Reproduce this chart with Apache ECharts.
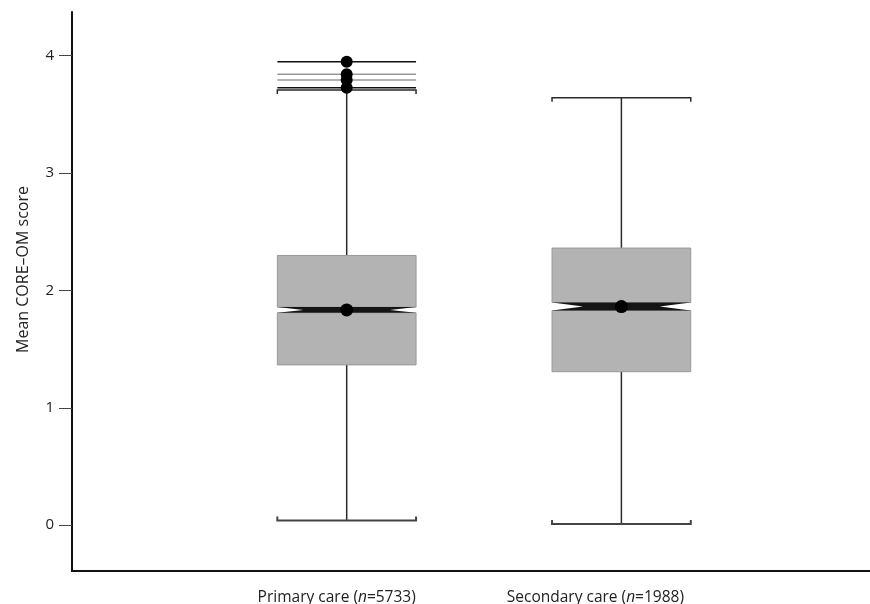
<!DOCTYPE html>
<html>
<head>
    <meta charset="UTF-8">
    <title>Mean CORE-OM score</title>
    <script src="https://cdn.jsdelivr.net/npm/echarts@6/dist/echarts.min.js"></script>
    <style>
        html, body { margin: 0; padding: 0; background: #fff; }
        #chart { width: 870px; height: 604px; }
    </style>
</head>
<body>
<div id="chart"></div>
<script>
    // values
    var categories = ['Primary care', 'Secondary care'];
    var sampleN = [5733, 1988];
    var whiskerLow = [0.04, 0.01];
    var q1 = [1.365, 1.307];
    var median = [1.833, 1.862];
    var q3 = [2.297, 2.36];
    var whiskerHigh = [3.705, 3.64];
    var notchHalf = [0.024, 0.034];
    var notchDepth = [0.095, 0.113];
    var outliers = [[3.947, 3.84, 3.79, 3.724], []];
    var outlierShade = [['#111', '#9a9a9a', '#9a9a9a', '#111'], []];
    var yTicks = [0, 1, 2, 3, 4];

    var halfW = 0.2525;   // box half width in x units
    var FONT = '"Open Sans", sans-serif';
    var labelPad = [20, 52]; // the printed labels sit a little left of the boxes

    var boxData = categories.map(function (c, i) {
        return [i + 1, whiskerLow[i], q1[i], median[i], q3[i], whiskerHigh[i], notchHalf[i], notchDepth[i]];
    });
    var outlierData = [];
    outliers.forEach(function (list, i) {
        list.forEach(function (v, j) {
            outlierData.push([i + 1, v, outlierShade[i][j]]);
        });
    });
    var medianDots = categories.map(function (c, i) { return [i + 1, median[i]]; });

    function renderBox(params, api) {
        var x = api.value(0);
        var lo = api.value(1), b1 = api.value(2), md = api.value(3), b3 = api.value(4), hi = api.value(5);
        var nh = api.value(6), nd = api.value(7);
        var L = x - halfW, R = x + halfW;
        var p = function (a, b) { return api.coord([a, b]); };
        var lineStyle = { stroke: '#2a2a2a', lineWidth: 1.5, fill: null };
        var tL = p(L, hi), tR = p(R, hi), bL = p(L, lo), bR = p(R, lo);
        var children = [
            // whiskers
            { type: 'line', shape: { x1: p(x, b3)[0], y1: p(x, b3)[1], x2: p(x, hi)[0], y2: p(x, hi)[1] }, style: lineStyle },
            { type: 'line', shape: { x1: p(x, b1)[0], y1: p(x, b1)[1], x2: p(x, lo)[0], y2: p(x, lo)[1] }, style: lineStyle },
            // caps with small end ticks
            { type: 'polyline', shape: { points: [[tL[0], tL[1] + 4], tL, tR, [tR[0], tR[1] + 4]] }, style: lineStyle },
            { type: 'polyline', shape: { points: [[bL[0], bL[1] - 4], bL, bR, [bR[0], bR[1] - 4]] }, style: { stroke: '#444', lineWidth: 2, fill: null } },
            // upper and lower parts of the box
            { type: 'polygon', shape: { points: [p(L, b3), p(R, b3), p(R, md + nh), p(L, md + nh)] },
                style: { fill: '#b3b3b3', stroke: '#9a9a9a', lineWidth: 1 } },
            { type: 'polygon', shape: { points: [p(L, md - nh), p(R, md - nh), p(R, b1), p(L, b1)] },
                style: { fill: '#b3b3b3', stroke: '#9a9a9a', lineWidth: 1 } },
            // notch
            { type: 'polygon', shape: { points: [p(L, md + nh), p(R, md + nh), p(R - nd, md), p(R, md - nh), p(L, md - nh), p(L + nd, md)] },
                style: { fill: '#151515' } },
            { type: 'line', shape: { x1: p(L + nd, md)[0], y1: p(L + nd, md)[1], x2: p(R - nd, md)[0], y2: p(R - nd, md)[1] },
                style: { stroke: '#151515', lineWidth: 3 } }
        ];
        return { type: 'group', children: children };
    }

    function renderOutlier(params, api) {
        var x = api.value(0), v = api.value(1);
        var a = api.coord([x - halfW, v]), b = api.coord([x + halfW, v]);
        return {
            type: 'line',
            shape: { x1: a[0], y1: a[1], x2: b[0], y2: b[1] },
            style: { stroke: api.value(2), lineWidth: 1.5 }
        };
    }

    var chart = echarts.init(document.getElementById('chart'));
    chart.setOption({
        animation: false,
        grid: { left: 72, right: 0, top: 12, bottom: 33, outerBoundsMode: 'none' },
        xAxis: {
            type: 'value',
            min: 0,
            max: 2.905,
            interval: 1,
            splitLine: { show: false },
            axisTick: { show: false },
            axisLine: { onZero: false, lineStyle: { color: '#111', width: 2 } },
            axisLabel: {
                margin: 19,
                fontFamily: FONT,
                fontSize: 15.5,
                color: '#222',
                formatter: function (v) {
                    var i = Math.round(v) - 1;
                    if (i < 0 || i >= categories.length) return '';
                    return categories[i] + ' ({it|n}=' + sampleN[i] + '){p' + i + '|}';
                },
                rich: {
                    it: { fontStyle: 'italic', fontFamily: FONT, fontSize: 15.5, color: '#222' },
                    p0: { width: labelPad[0] },
                    p1: { width: labelPad[1] }
                }
            }
        },
        yAxis: {
            type: 'value',
            min: -0.39,
            max: 4.37,
            name: 'Mean CORE\u2013OM score',
            nameLocation: 'middle',
            nameGap: 41,
            nameTextStyle: { fontFamily: FONT, fontSize: 16, color: '#222', padding: [0, 0, 0, 44] },
            splitLine: { show: false },
            axisLine: { show: true, lineStyle: { color: '#111', width: 2 } },
            axisTick: { show: true, length: 13, customValues: yTicks, lineStyle: { color: '#444', width: 1 } },
            axisLabel: { margin: 18, fontFamily: FONT, fontSize: 15, color: '#222', customValues: yTicks }
        },
        series: [
            { type: 'custom', renderItem: renderBox, data: boxData, z: 2 },
            { type: 'custom', renderItem: renderOutlier, data: outlierData, z: 3 },
            { type: 'scatter', data: outlierData.map(function (d) { return [d[0], d[1]]; }), symbolSize: 12,
                itemStyle: { color: '#000', opacity: 1 }, z: 4 },
            { type: 'scatter', data: medianDots, symbolSize: 13, itemStyle: { color: '#000', opacity: 1 }, z: 5 }
        ]
    });
</script>
</body>
</html>
